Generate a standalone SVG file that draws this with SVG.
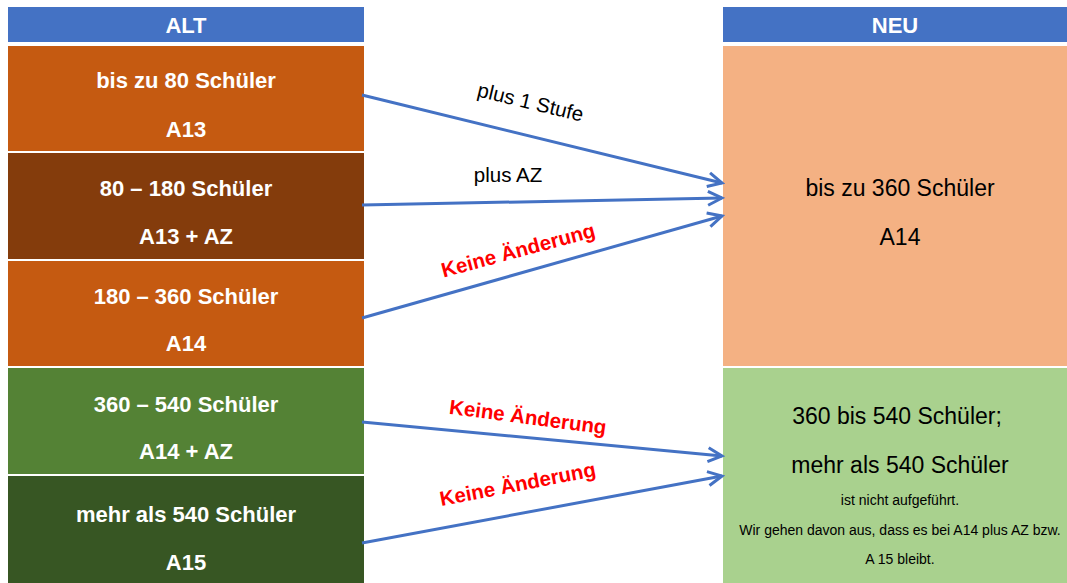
<svg xmlns="http://www.w3.org/2000/svg" width="1067" height="583" viewBox="0 0 1067 583">
<style>
.hdr{fill:#4472C4}
.lt{font-family:"Liberation Sans",Arial,sans-serif;font-weight:bold;font-size:22px;fill:#fff;text-anchor:middle}
.rt{font-family:"Liberation Sans",Arial,sans-serif;font-size:23px;fill:#000;text-anchor:middle}
.sm{font-family:"Liberation Sans",Arial,sans-serif;font-size:14px;fill:#000;text-anchor:middle}
.lbl{font-family:"Liberation Sans",Arial,sans-serif;font-size:20.5px;fill:#000;text-anchor:middle}
.red{font-family:"Liberation Sans",Arial,sans-serif;font-size:20.5px;font-weight:bold;fill:#FF0000;text-anchor:middle}
.arr{stroke:#4472C4;stroke-width:3;fill:none;marker-end:url(#ah)}
</style>
<defs>
<marker id="ah" markerUnits="userSpaceOnUse" markerWidth="20" markerHeight="20" refX="17" refY="8" orient="auto" viewBox="0 0 20 16">
<path d="M3,1 L17,8 L3,15" fill="none" stroke="#4472C4" stroke-width="3" stroke-linejoin="miter"/>
</marker>
</defs>
<rect width="1067" height="583" fill="#fff"/>
<g id="alt-header"><rect class="hdr" x="8" y="7" width="356" height="35"/><text class="lt" x="186" y="33">ALT</text></g>
<g id="neu-header"><rect class="hdr" x="723" y="7" width="344" height="35"/><text class="lt" x="895" y="33">NEU</text></g>
<g id="alt1"><rect x="8" y="46" width="356" height="105" fill="#C55A11"/><text class="lt" x="186" y="88">bis zu 80 Schüler</text><text class="lt" x="186" y="137">A13</text></g>
<g id="alt2"><rect x="8" y="153" width="356" height="106" fill="#843C0C"/><text class="lt" x="186" y="196">80 – 180 Schüler</text><text class="lt" x="186" y="244">A13 + AZ</text></g>
<g id="alt3"><rect x="8" y="261" width="356" height="105" fill="#C55A11"/><text class="lt" x="186" y="304">180 – 360 Schüler</text><text class="lt" x="186" y="351">A14</text></g>
<g id="alt4"><rect x="8" y="368" width="356" height="106" fill="#548235"/><text class="lt" x="186" y="412">360 – 540 Schüler</text><text class="lt" x="186" y="459">A14 + AZ</text></g>
<g id="alt5"><rect x="8" y="476" width="356" height="107" fill="#375623"/><text class="lt" x="186" y="522">mehr als 540 Schüler</text><text class="lt" x="186" y="570">A15</text></g>
<g id="neu1"><rect x="723" y="46" width="344" height="320" fill="#F4B183"/><text class="rt" x="900" y="196">bis zu 360 Schüler</text><text class="rt" x="900" y="245">A14</text></g>
<g id="neu2"><rect x="723" y="368" width="344" height="215" fill="#A9D18E"/><text class="rt" x="897" y="424">360 bis 540 Schüler;</text><text class="rt" x="900" y="473">mehr als 540 Schüler</text><text class="sm" x="900" y="505">ist nicht aufgeführt.</text><text class="sm" x="900" y="535">Wir gehen davon aus, dass es bei A14 plus AZ bzw.</text><text class="sm" x="900" y="564">A 15 bleibt.</text></g>
<g id="connectors">
<line class="arr" x1="362" y1="95" x2="722" y2="183"/>
<line class="arr" x1="362" y1="205" x2="722" y2="198"/>
<line class="arr" x1="362" y1="318" x2="722" y2="216"/>
<line class="arr" x1="362" y1="422" x2="722" y2="456"/>
<line class="arr" x1="362" y1="543" x2="722" y2="476"/>
<text class="lbl" transform="translate(529,109) rotate(13.5)">plus 1 Stufe</text>
<text class="lbl" x="508" y="182">plus AZ</text>
<text class="red" transform="translate(520,257) rotate(-15)">Keine Änderung</text>
<text class="red" transform="translate(527,424) rotate(7.5)">Keine Änderung</text>
<text class="red" transform="translate(519,491) rotate(-11)">Keine Änderung</text>
</g>
</svg>
